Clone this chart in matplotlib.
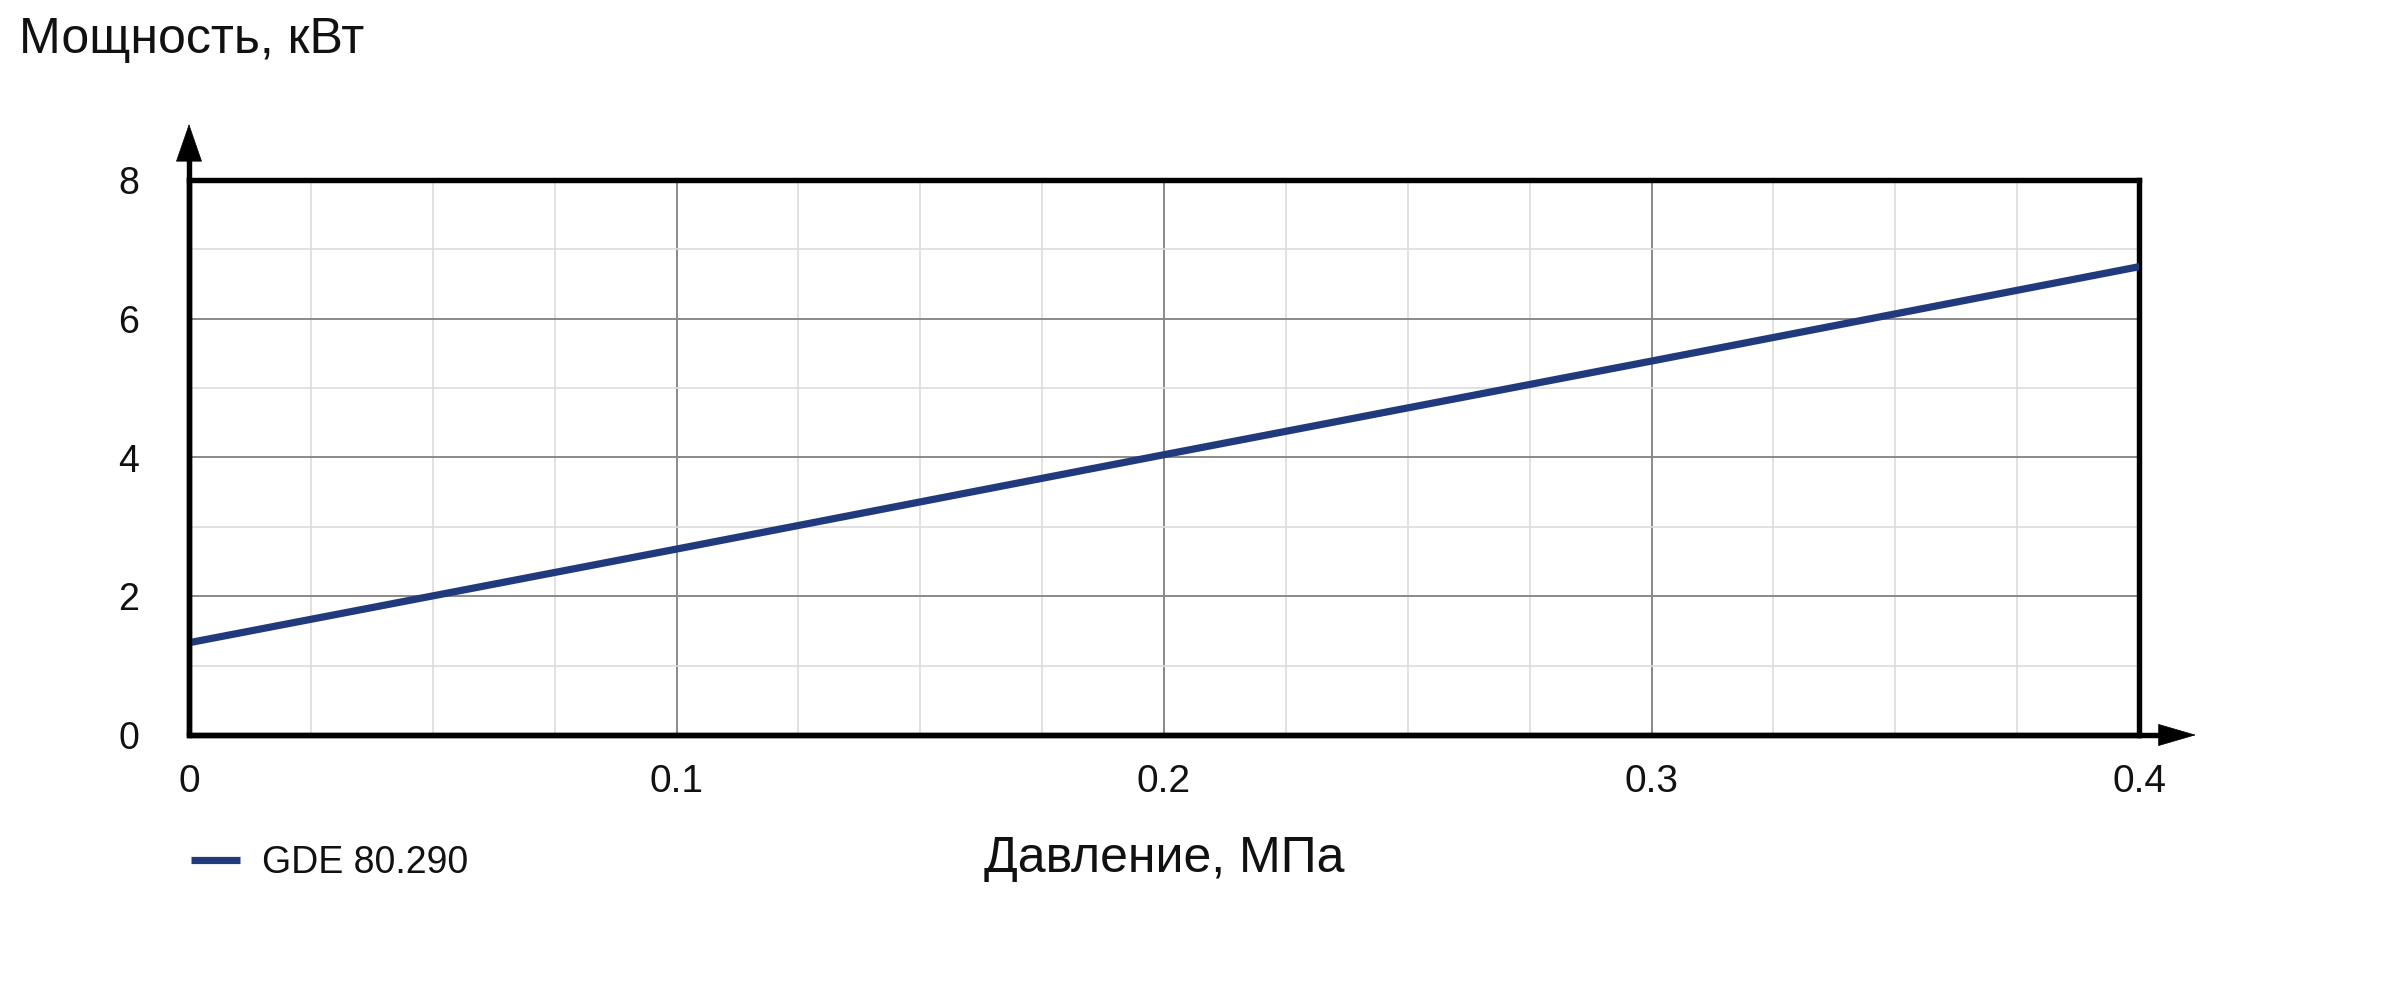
import matplotlib
matplotlib.use("Agg")
import matplotlib.pyplot as plt
from matplotlib.ticker import MultipleLocator

plt.rcParams['font.family'] = ['Liberation Sans', 'DejaVu Sans']

pressure = [0.0, 0.1, 0.2, 0.3, 0.4]
power = [1.33, 2.68, 4.04, 5.39, 6.75]
series_name = "GDE 80.290"
x_ticks = [0, 0.1, 0.2, 0.3, 0.4]
x_tick_labels = ["0", "0.1", "0.2", "0.3", "0.4"]
y_ticks = [0, 2, 4, 6, 8]
y_tick_labels = ["0", "2", "4", "6", "8"]
y_title = "Мощность, кВт"
x_title = "Давление, МПа"

fig = plt.figure(figsize=(24, 10), dpi=100)
ax = fig.add_axes([189/2400, 1 - 735/1000, (2139-189)/2400, (735-180)/1000])
ax.set_xlim(0, 0.4)
ax.set_ylim(0, 8)

ax.xaxis.set_minor_locator(MultipleLocator(0.025))
ax.yaxis.set_minor_locator(MultipleLocator(1))
ax.set_xticks(x_ticks)
ax.set_xticklabels(x_tick_labels)
ax.set_yticks(y_ticks)
ax.set_yticklabels(y_tick_labels)
ax.grid(which='major', color='#8a8a8a', linewidth=1.4)
ax.grid(which='minor', color='#dcdcdc', linewidth=1.2)
ax.set_axisbelow(True)
ax.tick_params(which='both', length=0, colors='#111111')
ax.tick_params(axis='x', pad=21, labelsize=28)
ax.tick_params(axis='y', pad=36, labelsize=27)

for s in ax.spines.values():
    s.set_linewidth(3.9)
    s.set_color('black')

line, = ax.plot(pressure, power, color='#213a7e', linewidth=5.2,
                solid_capstyle='round', label=series_name, zorder=5)

# axis arrows: shafts
ytop = 1 + 56/555
xright = 1 + 57/1950
ax.plot([0, 0], [0, ytop - 0.03], transform=ax.transAxes, color='black',
        lw=3.9, clip_on=False, solid_capstyle='butt', zorder=6)
ax.plot([0, xright - 0.01], [0, 0], transform=ax.transAxes, color='black',
        lw=3.9, clip_on=False, solid_capstyle='butt', zorder=6)
# arrow heads
ax.annotate('', xy=(0, ytop), xytext=(0, ytop - 0.08), xycoords='axes fraction',
            textcoords='axes fraction',
            arrowprops=dict(arrowstyle='-|>,head_length=1.3,head_width=0.45',
                            lw=0.5, color='black', mutation_scale=20,
                            shrinkA=0, shrinkB=0))
ax.annotate('', xy=(xright, 0), xytext=(xright - 0.03, 0), xycoords='axes fraction',
            textcoords='axes fraction',
            arrowprops=dict(arrowstyle='-|>,head_length=1.3,head_width=0.38',
                            lw=0.5, color='black', mutation_scale=20,
                            shrinkA=0, shrinkB=0))

fig.text(19/2400, 1 - 53/1000, y_title, fontsize=36, color='#111111',
         ha='left', va='baseline')
fig.text(1164/2400, 1 - 872/1000, x_title, fontsize=36, color='#111111',
         ha='center', va='baseline')

leg = ax.legend(handles=[line], loc='upper left',
                bbox_to_anchor=(191/2400, 1 - 845/1000),
                bbox_transform=fig.transFigure, frameon=False,
                fontsize=27, handlelength=1.3, handletextpad=0.6,
                borderpad=0, borderaxespad=0)
leg.get_lines()[0].set_solid_capstyle('butt')
for t in leg.get_texts():
    t.set_color('#111111')

fig.savefig('out.png', dpi=100, facecolor='white')
